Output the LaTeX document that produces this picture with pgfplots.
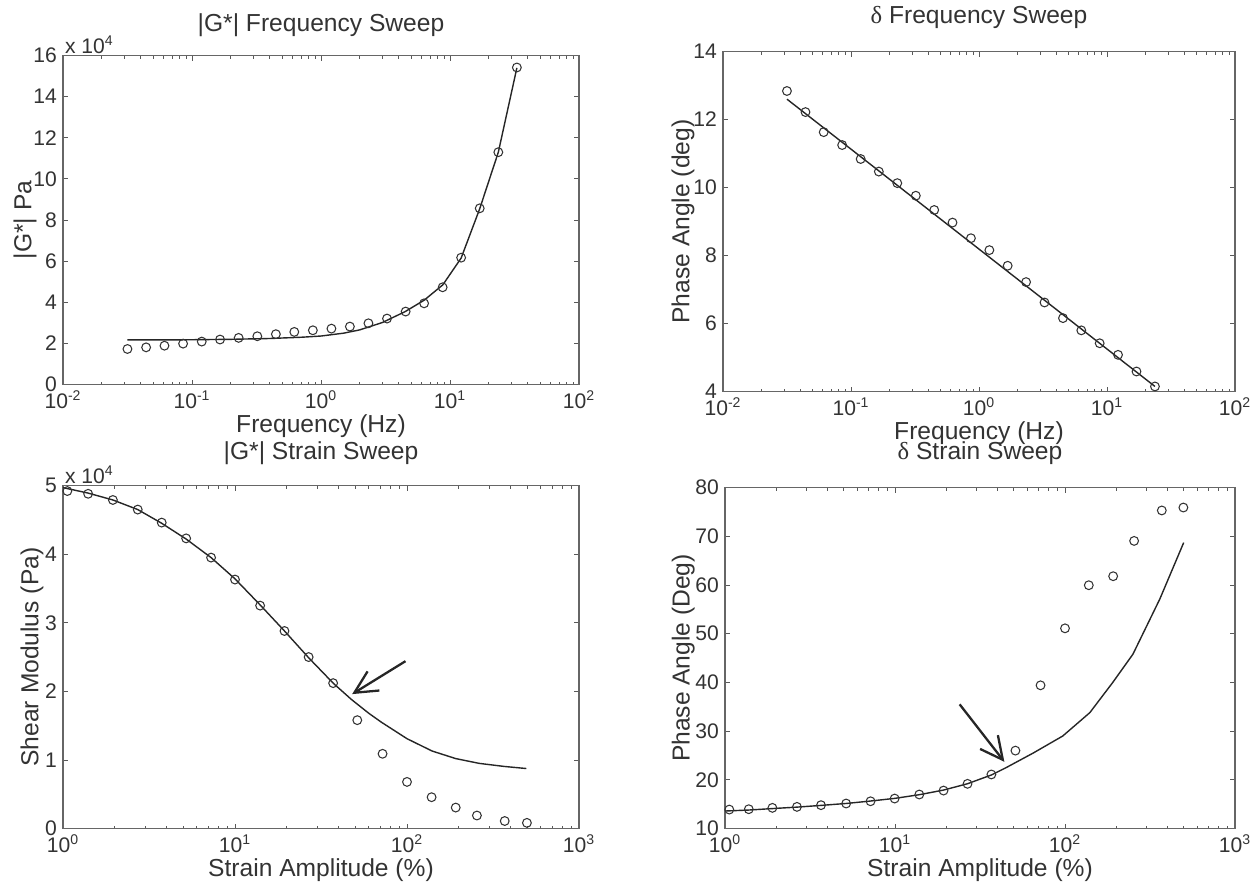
\documentclass[border=0pt]{standalone}
\usepackage{fontspec}
\setmainfont{Liberation Sans}
\newfontfamily\greekserif{Liberation Serif}
\usepackage{pgfplots}
\pgfplotsset{compat=1.18}
\usepackage{pgfplotstable}
\usetikzlibrary{arrows.meta}

% |G*| frequency sweep, values in 1e4 Pa
\pgfplotstableread{
f g
0.0316 1.73
0.0441 1.81
0.0612 1.89
0.0853 1.99
0.119 2.09
0.165 2.19
0.230 2.27
0.321 2.35
0.447 2.45
0.621 2.56
0.865 2.64
1.205 2.72
1.675 2.82
2.333 2.98
3.25 3.21
4.53 3.55
6.30 3.95
8.77 4.73
12.2 6.17
17.0 8.57
23.7 11.30
33.0 15.42
}\gfreq
\pgfplotstableread{
f g
0.0316 2.17
0.06 2.17
0.1 2.18
0.2 2.20
0.4 2.24
0.7 2.30
1.0 2.36
1.5 2.50
2.0 2.66
3.0 3.02
4.5 3.55
6.3 4.10
8.8 4.85
12.2 6.15
17.0 8.55
23.7 11.3
33.0 15.4
}\gfreqfit

% phase angle frequency sweep
\pgfplotstableread{
f d
0.0316 12.84
0.0441 12.22
0.0612 11.63
0.0853 11.25
0.119 10.84
0.165 10.47
0.230 10.13
0.321 9.76
0.447 9.34
0.621 8.97
0.865 8.51
1.205 8.16
1.675 7.70
2.333 7.22
3.25 6.62
4.53 6.16
6.30 5.80
8.77 5.42
12.2 5.08
17.0 4.59
23.7 4.15
}\dfreq
\pgfplotstableread{
f d
0.0316 12.6
23.7 4.15
}\dfreqfit

% |G*| strain sweep, values in 1e4 Pa
\pgfplotstableread{
s g
1.06 4.92
1.40 4.88
1.95 4.79
2.72 4.65
3.75 4.46
5.2 4.23
7.26 3.95
10.0 3.63
14.0 3.25
19.4 2.88
26.8 2.50
37.2 2.12
51.4 1.58
72.1 1.09
100 0.68
139 0.457
192 0.306
255 0.19
370 0.11
498 0.083
}\gstrain
\pgfplotstableread{
s g
1.0 4.97
1.4 4.89
1.95 4.79
2.72 4.65
3.75 4.45
5.2 4.22
7.26 3.95
10 3.64
14 3.26
19.4 2.88
26.8 2.49
37.2 2.12
47.6 1.88
60 1.68
71 1.55
100 1.31
140 1.13
192 1.02
263 0.95
369 0.905
494 0.875
}\gstrainfit

% phase angle strain sweep
\pgfplotstableread{
s d
1.06 13.9
1.38 13.97
1.9 14.25
2.65 14.45
3.67 14.8
5.16 15.14
7.18 15.6
9.95 16.16
13.9 16.99
19.3 17.8
26.7 19.18
36.9 21.1
51.1 26.0
71.8 39.4
100 51.1
138 59.95
192 61.8
255 69.05
371 75.3
497 75.9
}\dstrain
\pgfplotstableread{
s d
1.0 13.6
1.38 13.8
1.9 14.1
2.65 14.4
3.67 14.75
5.16 15.15
7.18 15.65
10 16.2
13.9 16.95
19.3 17.9
26.7 19.2
36.9 21.0
45 22.5
65 25.5
97 29.0
140 33.8
191 40.0
251 45.8
361 57.1
499 68.7
}\dstrainfit

\pgfplotsset{
  myaxis/.style={
    scale only axis,
    axis line style={black!60, line width=0.6pt},
    tick style={black!65, line width=0.5pt},
    tick align=inside,
    major tick length=0.1cm, minor tick length=0.06cm,
    ticklabel style={font=\fontsize{12}{14}\selectfont, text=black!80},
    label style={font=\fontsize{14}{16}\selectfont, text=black!80},
    title style={font=\fontsize{14}{16}\selectfont, text=black!80,
                 at={(axis description cs:0.5,1)}, anchor=center},
    xlabel style={at={(axis description cs:0.5,0)}, anchor=center, yshift=-0.84cm},
    clip=false,
  },
  mypts/.style={only marks, mark=o, mark size=2.5pt, black!80,
              mark options={line width=0.6pt}},
  myfit/.style={black!85, line width=0.8pt, no marks},
}
\newcommand{\sci}{\fontsize{12}{14}\selectfont x 10\textsuperscript{4}}

\begin{document}
\begin{tikzpicture}
\path (0,0) rectangle (25.16,-17.58);

% top left
\begin{axis}[xmode=log, myaxis, /pgf/number format/assume math mode=true,
  at={(1.26cm,-0.94cm)}, anchor=north west, width=10.32cm, height=6.58cm,
  xmin=0.01, xmax=100, ymin=0, ymax=16, ytick={0,2,...,16},
  xtick={0.01,0.1,1,10,100},
  xticklabels={10\textsuperscript{-2},10\textsuperscript{-1},10\textsuperscript{0},10\textsuperscript{1},10\textsuperscript{2}},
  title={|G*| Frequency Sweep}, title style={yshift=0.40cm},
  xlabel={Frequency (Hz)}, ylabel={|G*| Pa},
  ylabel style={at={(axis description cs:-0.0736,0.5)}, anchor=center},
]
\addplot[myfit] table[x=f, y=g] {\gfreqfit};
\addplot[mypts] table[x=f, y=g] {\gfreq};
\node[anchor=south west, inner sep=1pt, text=black!80] at (rel axis cs:0,1) {\sci};
\end{axis}

% top right
\begin{axis}[xmode=log, myaxis, /pgf/number format/assume math mode=true,
  at={(14.46cm,-0.86cm)}, anchor=north west, width=10.24cm, height=6.80cm,
  xmin=0.01, xmax=100, ymin=4, ymax=14, ytick={4,6,...,14},
  xtick={0.01,0.1,1,10,100},
  xticklabels={10\textsuperscript{-2},10\textsuperscript{-1},10\textsuperscript{0},10\textsuperscript{1},10\textsuperscript{2}},
  title={{\greekserif δ} Frequency Sweep}, title style={yshift=0.48cm},
  xlabel={Frequency (Hz)}, ylabel={Phase Angle (deg)},
  ylabel style={at={(axis description cs:-0.078,0.5)}, anchor=center},
]
\addplot[myfit] table[x=f, y=d] {\dfreqfit};
\addplot[mypts] table[x=f, y=d] {\dfreq};
\end{axis}

% bottom left
\begin{axis}[xmode=log, myaxis, /pgf/number format/assume math mode=true,
  at={(1.26cm,-9.54cm)}, anchor=north west, width=10.32cm, height=6.86cm,
  xmin=1, xmax=1000, ymin=0, ymax=5, ytick={0,1,...,5},
  xtick={1,10,100,1000},
  xticklabels={10\textsuperscript{0},10\textsuperscript{1},10\textsuperscript{2},10\textsuperscript{3}},
  title={|G*| Strain Sweep}, title style={yshift=0.44cm},
  xlabel={Strain Amplitude (\%)}, ylabel={Shear Modulus (Pa)},
  ylabel style={at={(axis description cs:-0.060,0.5)}, anchor=center},
]
\addplot[myfit] table[x=s, y=g] {\gstrainfit};
\addplot[mypts] table[x=s, y=g] {\gstrain};
\draw[black!85, line width=1.3pt, -{Straight Barb[length=0.45cm, width=0.45cm]}]
  (axis cs:98,2.44) -- (axis cs:48,1.96);
\node[anchor=south west, inner sep=1pt, text=black!80] at (rel axis cs:0,1) {\sci};
\end{axis}

% bottom right
\begin{axis}[xmode=log, myaxis, /pgf/number format/assume math mode=true,
  at={(14.50cm,-9.58cm)}, anchor=north west, width=10.20cm, height=6.82cm,
  xmin=1, xmax=1000, ymin=10, ymax=80, ytick={10,20,...,80},
  xtick={1,10,100,1000},
  xticklabels={10\textsuperscript{0},10\textsuperscript{1},10\textsuperscript{2},10\textsuperscript{3}},
  title={{\greekserif δ} Strain Sweep}, title style={yshift=0.48cm},
  xlabel={Strain Amplitude (\%)}, ylabel={Phase Angle (Deg)},
  ylabel style={at={(axis description cs:-0.082,0.5)}, anchor=center},
]
\addplot[myfit] table[x=s, y=d] {\dstrainfit};
\addplot[mypts] table[x=s, y=d] {\dstrain};
\draw[black!85, line width=1.3pt, -{Straight Barb[length=0.45cm, width=0.45cm]}]
  (axis cs:24,35.5) -- (axis cs:44,23.7);
\end{axis}
\end{tikzpicture}
\end{document}
